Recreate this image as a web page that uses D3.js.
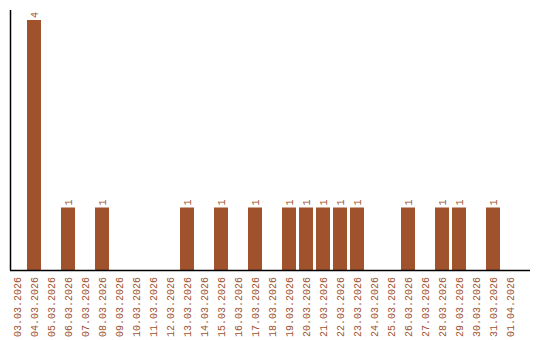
<!DOCTYPE html>
<html>
<head>
<meta charset="utf-8">
<script src="https://cdn.jsdelivr.net/npm/d3@7"></script>
<style>
  body { margin: 0; background: #fff; }
  svg text { font-family: "Liberation Mono", monospace; font-size: 10px; fill: #a0522d; }
</style>
</head>
<body>
<div id="chart"></div>
<script>
var dates = ["03.03.2026", "04.03.2026", "05.03.2026", "06.03.2026", "07.03.2026", "08.03.2026",
    "09.03.2026", "10.03.2026", "11.03.2026", "12.03.2026", "13.03.2026", "14.03.2026",
    "15.03.2026", "16.03.2026", "17.03.2026", "18.03.2026", "19.03.2026", "20.03.2026",
    "21.03.2026", "22.03.2026", "23.03.2026", "24.03.2026", "25.03.2026", "26.03.2026",
    "27.03.2026", "28.03.2026", "29.03.2026", "30.03.2026", "31.03.2026", "01.04.2026"];
var counts = [0, 4, 0, 1, 0, 1, 0, 0, 0, 0, 1, 0, 1, 0, 1, 0, 1, 1, 1, 1, 1, 0, 0, 1, 0, 1, 1, 0, 1, 0];

var width = 540, height = 340;
var barColor = "#a0522d";

var svg = d3.select("#chart").append("svg:svg")
    .attr("width", width)
    .attr("height", height);

var x = d3.scaleBand()
    .domain(dates)
    .range([10, 517])
    .paddingInner(3 / 17)
    .paddingOuter(0);

var y = d3.scaleLinear()
    .domain([0, 4])
    .range([270, 20]);

var data = dates.map(function(d, i) { return {date: d, value: counts[i]}; });
var shown = data.filter(function(d) { return d.value > 0; });

// bars
svg.append("svg:g").selectAll("rect")
    .data(shown)
    .enter().append("rect")
    .attr("x", function(d) { return x(d.date); })
    .attr("y", function(d) { return y(d.value); })
    .attr("width", x.bandwidth())
    .attr("height", function(d) { return y(0) - y(d.value); })
    .attr("fill", barColor);

// value labels, turned like the dates
svg.append("svg:g").selectAll("text")
    .data(shown)
    .enter().append("text")
    .attr("transform", function(d) {
        return "translate(" + (x(d.date) + x.bandwidth() / 2) + "," + (y(d.value) - 2) + ") rotate(-90)";
    })
    .attr("dy", "0.35em")
    .attr("text-anchor", "start")
    .text(function(d) { return d.value; });

// date labels via axis
var xAxis = svg.append("svg:g")
    .attr("transform", "translate(0,270)")
    .call(d3.axisBottom(x).tickSize(0).tickPadding(0));
xAxis.select(".domain").remove();
xAxis.selectAll("text")
    .attr("transform", "translate(0,7) rotate(-90)")
    .attr("x", 0)
    .attr("y", 0)
    .attr("dy", "0.35em")
    .attr("text-anchor", "end")
    .attr("fill", barColor)
    .style("font-family", "'Liberation Mono', monospace")
    .style("font-size", "10px");

// axis lines
svg.append("line")
    .attr("x1", 10.5).attr("x2", 10.5)
    .attr("y1", 10).attr("y2", 270)
    .attr("stroke", "#000").attr("stroke-width", 1.5);
svg.append("line")
    .attr("x1", 10).attr("x2", 530)
    .attr("y1", 270.5).attr("y2", 270.5)
    .attr("stroke", "#000").attr("stroke-width", 1.5);
</script>
</body>
</html>
